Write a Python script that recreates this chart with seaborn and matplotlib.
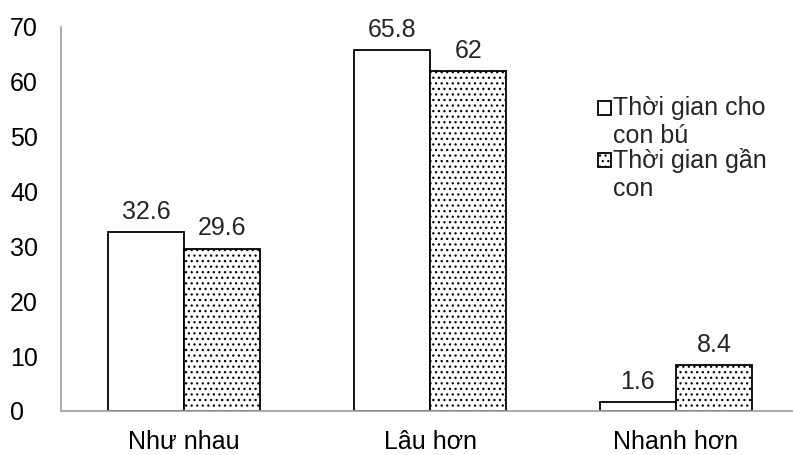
import pandas as pd
import numpy as np
import matplotlib
matplotlib.use("Agg")
import matplotlib.pyplot as plt
import matplotlib.patches as mpatches
from matplotlib.legend_handler import HandlerPatch
import seaborn as sns

categories = ["Như nhau", "Lâu hơn", "Nhanh hơn"]
series_names = ["Thời gian cho\ncon bú", "Thời gian gần\ncon"]
bu_values = [32.6, 65.8, 1.6]
gan_values = [29.6, 62, 8.4]
label_text = [["32.6", "65.8", "1.6"], ["29.6", "62", "8.4"]]

df = pd.DataFrame({
    "cat": categories * 2,
    "series": [series_names[0]] * 3 + [series_names[1]] * 3,
    "val": bu_values + gan_values,
})

sns.set_style("white")
plt.rcParams["font.family"] = ["Liberation Sans", "DejaVu Sans"]
plt.rcParams["hatch.linewidth"] = 0.9
FS = 18

fig = plt.figure(figsize=(7.93, 4.55), dpi=100)
ax = fig.add_axes([61 / 793, 1 - 411 / 455, 740 / 793, 384 / 455])

sns.barplot(data=df, x="cat", y="val", hue="series", order=categories,
            hue_order=series_names, palette=["white", "white"],
            width=0.62, edgecolor="black", linewidth=1.3, ax=ax, legend=True)

for i, cont in enumerate(ax.containers):
    for bar in cont:
        if i == 1:
            bar.set_hatch("...")
    ax.bar_label(cont, labels=label_text[i], padding=6, fontsize=FS)


# square marker sits on the first line of a two-line label
def top_square(legend, orig_handle, xdescent, ydescent, width, height, fontsize):
    return mpatches.Rectangle((-xdescent, -ydescent + 0.6 * fontsize), width, height)


handles, labels = ax.get_legend_handles_labels()
handles[1].set_hatch("...")
ax.legend(handles, labels, loc="upper left", bbox_to_anchor=(0.726, 0.82),
          frameon=False, fontsize=FS, handlelength=0.5, handleheight=0.5,
          handletextpad=0.1, labelspacing=0.0, borderpad=0, borderaxespad=0,
          handler_map={mpatches.Rectangle: HandlerPatch(patch_func=top_square)})

ax.set_ylim(0, 70)
ax.set_yticks(range(0, 71, 10))
ax.set_xlim(-0.5, 2.508)
ax.set_xlabel("")
ax.set_ylabel("")
ax.tick_params(axis="both", labelsize=FS, length=0, colors="black")
ax.tick_params(axis="x", pad=14)
ax.tick_params(axis="y", pad=36.7)
for lab in ax.get_yticklabels():
    lab.set_horizontalalignment("left")
for s in ["top", "right"]:
    ax.spines[s].set_visible(False)
for s in ["left", "bottom"]:
    ax.spines[s].set_color("#a0a0a0")
    ax.spines[s].set_linewidth(1.2)

plt.savefig("out.png", dpi=100)
plt.close()
